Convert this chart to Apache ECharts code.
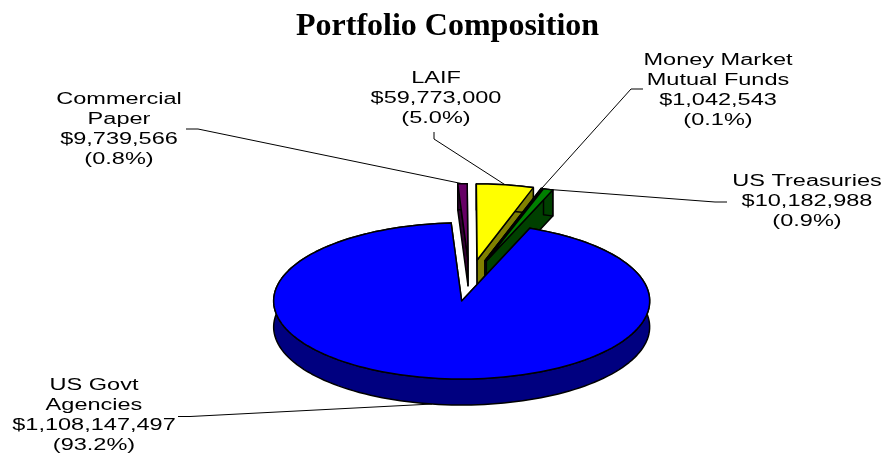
<!DOCTYPE html>
<html>
<head>
<meta charset="utf-8">
<style>html,body{margin:0;padding:0;background:#fff}#c{width:883px;height:456px}</style>
<script src="https://cdn.jsdelivr.net/npm/echarts@6/dist/echarts.min.js"></script>
</head>
<body>
<div id="c"></div>
<script>
// ---- data (clockwise from the Commercial Paper slice) ----
const names = ['Commercial\nPaper', 'LAIF', 'Money Market\nMutual Funds', 'US Treasuries', 'US Govt\nAgencies'];
const values = [9739566, 59773000, 1042543, 10182988, 1108147497];
const topColors = ['#660066', '#FFFF00', '#008080', '#008000', '#0000FF'];
const sideColors = ['#330033', '#808000', '#004040', '#004000', '#000080'];

// ---- layout ----
const labelCentres = [[119, 130], [436, 99], [718, 90.5], [807, 202], [94, 416]];
const leaderElbows = [
  [[186, 129], [198, 129]],
  [[434, 132], [434, 139]],
  [[643, 89], [631, 89]],
  [[727, 202], [715, 202]],
  [[178, 416.5], [190, 416.5]]
];
const pie = { cx: 469.5, cy: 280.5, rx: 188, ry: 78, depth: 26, explode: 50, startDeg: -3.2, backScale: 0.975 };
const total = values.reduce((a, b) => a + b, 0);

function pt(ox, oy, deg, r) {
  const a = deg * Math.PI / 180;
  return [ox + r * pie.rx * Math.sin(a), oy - r * pie.ry * Math.cos(a)];
}
function down(p) { return [p[0], p[1] + pie.depth]; }

function renderSlice(params, api) {
  const i = params.dataIndex;
  const v = api.value(0);
  let before = 0;
  for (let k = 0; k < i; k++) before += values[k];
  const a0 = pie.startDeg + before / total * 360;
  const a1 = a0 + v / total * 360;
  const mid = (a0 + a1) / 2;
  const front = Math.cos(mid * Math.PI / 180) < 0;
  const r = front ? 1 : pie.backScale; // slices pulled away from the viewer look a little smaller
  const apex = pt(pie.cx, pie.cy, mid, pie.explode / pie.rx);
  const arc = [];
  const steps = Math.max(2, Math.ceil((a1 - a0) / 2));
  for (let s = 0; s <= steps; s++) arc.push(pt(apex[0], apex[1], a0 + (a1 - a0) * s / steps, r));
  const line = { stroke: '#000', lineWidth: 1.5, lineJoin: 'round' };
  const poly = (points, fill) => ({ type: 'polygon', shape: { points }, style: Object.assign({ fill }, line) });

  const first = arc[0], last = arc[arc.length - 1];
  const kids = [];
  // leader line, from the label elbow to the slice's outer edge
  let anchor = pt(apex[0], apex[1], mid, r);
  if (front) anchor = down(anchor);
  kids.push({
    type: 'polyline',
    shape: { points: leaderElbows[i].concat([anchor]) },
    style: { fill: null, stroke: '#000', lineWidth: 1 }
  });
  // extruded faces, then the top
  kids.push(poly([apex, first, down(first), down(apex)], sideColors[i]));
  kids.push(poly([apex, last, down(last), down(apex)], sideColors[i]));
  kids.push(poly(arc.concat(arc.map(down).reverse()), sideColors[i]));
  kids.push(poly([apex].concat(arc), topColors[i]));
  // label
  const label = names[i] + '\n$' + v.toLocaleString('en-US') + '\n(' + (v / total * 100).toFixed(1) + '%)';
  kids.push({
    type: 'text',
    x: labelCentres[i][0],
    y: labelCentres[i][1],
    scaleX: 1.47,
    style: {
      x: 0, y: 0, text: label, fill: '#000',
      font: '16px "Liberation Sans", Arial, sans-serif',
      lineHeight: 20, align: 'center', verticalAlign: 'middle'
    }
  });
  return { type: 'group', children: kids };
}

const chart = echarts.init(document.getElementById('c'), null, { renderer: 'canvas' });
chart.setOption({
  animation: false,
  backgroundColor: '#fff',
  title: {
    text: 'Portfolio Composition',
    left: 296,
    top: 11,
    padding: 0,
    textStyle: { fontFamily: '"Liberation Serif", "Times New Roman", serif', fontWeight: 'bold', fontSize: 32, color: '#000' }
  },
  series: [{
    type: 'custom',
    coordinateSystem: 'none',
    silent: true,
    clip: false,
    renderItem: renderSlice,
    data: values.map(v => [v])
  }]
});
</script>
</body>
</html>
